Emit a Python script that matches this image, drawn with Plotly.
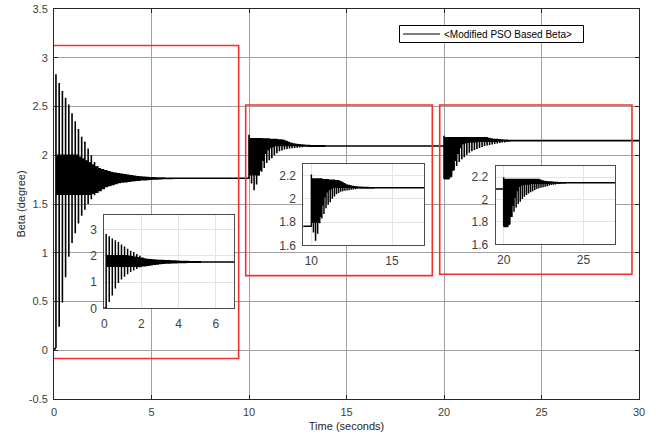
import plotly.graph_objects as go

# ---------------- data ----------------
# main axes ticks
x_ticks = [0, 5, 10, 15, 20, 25, 30]
y_ticks = [-0.5, 0, 0.5, 1, 1.5, 2, 2.5, 3, 3.5]
y_tick_text = ["-0.5", "0", "0.5", "1", "1.5", "2", "2.5", "3", "3.5"]

series_name = "&lt;Modified PSO Based Beta&gt;"
initial_value = 0.0

# segment 1 : transient after t = 0 (one entry per visible spike)
seg1_start = 0.1
seg1_step = 0.165
seg1_upper = [2.83, 2.74, 2.66, 2.59, 2.52, 2.43, 2.35, 2.27, 2.19, 2.14, 2.07, 2.00,
              1.93, 1.89, 1.86, 1.85, 1.84, 1.83, 1.82, 1.815, 1.81, 1.805, 1.80, 1.795,
              1.79, 1.785, 1.78, 1.778, 1.775, 1.772, 1.77, 1.768, 1.767, 1.766, 1.765, 1.765]
seg1_lower = [0.03, 0.24, 0.49, 0.75, 0.96, 1.10, 1.20, 1.30, 1.38, 1.44, 1.50, 1.55,
              1.59, 1.62, 1.65, 1.675, 1.69, 1.70, 1.71, 1.72, 1.725, 1.73, 1.73, 1.735,
              1.74, 1.74, 1.745, 1.745, 1.75, 1.75, 1.752, 1.755, 1.757, 1.758, 1.76, 1.76]
seg1_band_top = [2.00, 2.00, 2.00, 2.00, 2.00, 2.00, 2.00, 1.98, 1.96, 1.94, 1.92, 1.90,
                 1.88, 1.86, 1.85, 1.84, 1.83, 1.82, 1.815, 1.81, 1.805, 1.80, 1.795, 1.79,
                 1.785, 1.78, 1.777, 1.775, 1.772, 1.77, 1.768, 1.766, 1.765, 1.765, 1.764, 1.764]
seg1_band_bottom = [1.60, 1.60, 1.60, 1.60, 1.60, 1.60, 1.60, 1.60, 1.60, 1.60, 1.60, 1.61,
                    1.62, 1.64, 1.66, 1.68, 1.69, 1.70, 1.71, 1.72, 1.725, 1.73, 1.735, 1.74,
                    1.742, 1.745, 1.748, 1.75, 1.752, 1.754, 1.756, 1.758, 1.76, 1.761, 1.762, 1.763]
seg1_final = 1.764

# segment 2 : transient after t = 10
seg2_start = 10.0
seg2_step = 0.13
seg2_upper = [2.21, 2.17, 2.17, 2.17, 2.17, 2.17, 2.17, 2.17, 2.165, 2.165, 2.165, 2.16,
              2.16, 2.155, 2.15, 2.14, 2.13, 2.12, 2.115, 2.11, 2.107, 2.105, 2.103, 2.101,
              2.1, 2.099, 2.098, 2.097, 2.097, 2.097]
seg2_lower = [1.76, 1.71, 1.64, 1.70, 1.79, 1.83, 1.87, 1.92, 1.95, 1.97, 2.00, 2.02,
              2.04, 2.05, 2.06, 2.065, 2.07, 2.072, 2.075, 2.078, 2.08, 2.083, 2.086, 2.088,
              2.09, 2.091, 2.092, 2.093, 2.094, 2.094]
seg2_band_top = [2.17, 2.17, 2.17, 2.17, 2.17, 2.165, 2.165, 2.165, 2.16, 2.16, 2.16, 2.155,
                 2.155, 2.15, 2.14, 2.13, 2.12, 2.115, 2.11, 2.106, 2.104, 2.102, 2.1, 2.099,
                 2.098, 2.097, 2.097, 2.096, 2.096, 2.096]
seg2_band_bottom = [1.80, 1.80, 1.80, 1.80, 1.85, 1.95, 2.02, 2.06, 2.08, 2.09, 2.10, 2.10,
                    2.10, 2.10, 2.10, 2.10, 2.10, 2.10, 2.10, 2.098, 2.097, 2.096, 2.095, 2.094,
                    2.094, 2.094, 2.094, 2.094, 2.094, 2.094]
seg2_final = 2.095

# segment 3 : transient after t = 20
seg3_start = 20.0
seg3_step = 0.13
seg3_upper = [2.20, 2.18, 2.18, 2.18, 2.18, 2.18, 2.18, 2.18, 2.18, 2.18, 2.18, 2.18,
              2.18, 2.18, 2.18, 2.18, 2.18, 2.175, 2.17, 2.165, 2.162, 2.16, 2.158, 2.156,
              2.154, 2.153, 2.152, 2.151, 2.151, 2.15]
seg3_lower = [1.76, 1.755, 1.755, 1.78, 1.845, 1.89, 1.93, 1.96, 1.98, 2.005, 2.025, 2.04,
              2.055, 2.065, 2.075, 2.085, 2.095, 2.10, 2.105, 2.11, 2.115, 2.12, 2.125, 2.13,
              2.132, 2.135, 2.138, 2.14, 2.142, 2.144]
seg3_band_top = [2.18, 2.18, 2.18, 2.18, 2.18, 2.18, 2.18, 2.18, 2.18, 2.18, 2.18, 2.18,
                 2.18, 2.18, 2.18, 2.18, 2.18, 2.172, 2.167, 2.162, 2.16, 2.158, 2.156, 2.154,
                 2.153, 2.152, 2.151, 2.15, 2.15, 2.15]
seg3_band_bottom = [1.76, 1.76, 1.78, 1.85, 1.95, 2.02, 2.08, 2.12, 2.13, 2.135, 2.14, 2.14,
                    2.14, 2.145, 2.145, 2.145, 2.145, 2.145, 2.145, 2.145, 2.145, 2.146, 2.147, 2.148,
                    2.148, 2.148, 2.148, 2.148, 2.148, 2.148]
seg3_final = 2.15
t_end = 30.0

# highlighted regions (time range, value range)
box_t0 = [-0.08, 9.83, 19.78]
box_t1 = [9.47, 19.4, 29.64]
box_v0 = [-0.085, 0.765, 0.78]
box_v1 = [3.125, 2.515, 2.515]

# inset axes
inset_x_ranges = [[0, 7], [9.5, 17], [19.5, 27]]
inset_y_ranges = [[0, 3.55], [1.6, 2.3], [1.6, 2.3]]
inset_x_ticks = [[0, 2, 4, 6], [10, 15], [20, 25]]
inset_y_ticks = [[0, 1, 2, 3], [1.6, 1.8, 2.0, 2.2], [1.6, 1.8, 2.0, 2.2]]
inset_y_text = [["0", "1", "2", "3"], ["1.6", "1.8", "2", "2.2"], ["1.6", "1.8", "2", "2.2"]]


# ---------------- build the switching signal ----------------
def add_segment(xs, ys, start, step, ups, los, tops, bots, n_sub, final, t_next):
    for k in range(len(ups)):
        t = start + k * step
        xs += [t, t, t]
        ys += [los[k], ups[k], tops[k]]
        cur, other = tops[k], bots[k]
        for j in range(1, n_sub):
            tj = t + j * step / n_sub
            xs += [tj, tj]
            ys += [cur, other]
            cur, other = other, cur
        xs.append(t + step)
        ys.append(cur)
    t_last = start + len(ups) * step
    xs += [t_last, t_next]
    ys += [final, final]


xs, ys = [0.0], [initial_value]
add_segment(xs, ys, seg1_start, seg1_step, seg1_upper, seg1_lower, seg1_band_top,
            seg1_band_bottom, 4, seg1_final, seg2_start)
add_segment(xs, ys, seg2_start, seg2_step, seg2_upper, seg2_lower, seg2_band_top,
            seg2_band_bottom, 3, seg2_final, seg3_start)
add_segment(xs, ys, seg3_start, seg3_step, seg3_upper, seg3_lower, seg3_band_top,
            seg3_band_bottom, 3, seg3_final, t_end)

# ---------------- layout (page pixel geometry) ----------------
FONT = "Liberation Sans, Arial, Helvetica, sans-serif"
W, H = 656, 436
PLOT_L, PLOT_R, PLOT_T, PLOT_B = 54, 639, 9, 399   # main axes box on the page
ML, MR, MT, MB = PLOT_L, W - PLOT_R, PLOT_T, H - PLOT_B
PW, PH = PLOT_R - PLOT_L, PLOT_B - PLOT_T


def px_x(px):
    return (px - PLOT_L) / PW


def px_y(py):
    return (PLOT_B - py) / PH


fig = go.Figure()
fig.add_trace(go.Scatter(x=xs, y=ys, mode="lines", name=series_name, showlegend=False,
                         line=dict(color="black", width=1.6, simplify=False),
                         xaxis="x", yaxis="y", hoverinfo="skip"))
for i in range(3):
    n = str(i + 2)
    fig.add_trace(go.Scatter(x=xs, y=ys, mode="lines", showlegend=False,
                             line=dict(color="black", width=1.5, simplify=False),
                             xaxis="x" + n, yaxis="y" + n, hoverinfo="skip"))

for i in range(3):
    fig.add_shape(type="rect", xref="x", yref="y",
                  x0=box_t0[i], x1=box_t1[i], y0=box_v0[i], y1=box_v1[i],
                  line=dict(color="rgb(242,48,48)", width=1.6), layer="above")

# legend box drawn by hand (compact MATLAB style)
LEG_L, LEG_R, LEG_T, LEG_B = 399.5, 583.5, 25.5, 42.5
leg_mid = (LEG_T + LEG_B) / 2
fig.add_shape(type="rect", xref="paper", yref="paper",
              x0=px_x(LEG_L), x1=px_x(LEG_R), y0=px_y(LEG_B), y1=px_y(LEG_T),
              line=dict(color="black", width=1), fillcolor="white", layer="above")
fig.add_shape(type="line", xref="paper", yref="paper",
              x0=px_x(403), x1=px_x(440), y0=px_y(leg_mid), y1=px_y(leg_mid),
              line=dict(color="black", width=1), layer="above")
fig.add_annotation(xref="paper", yref="paper", x=px_x(442), y=px_y(leg_mid),
                   xanchor="left", yanchor="middle", showarrow=False, text=series_name,
                   font=dict(family=FONT, size=10, color="black"))

layout = dict(
    width=W, height=H,
    margin=dict(l=ML, r=MR, t=MT, b=MB, pad=0, autoexpand=False),
    paper_bgcolor="white", plot_bgcolor="white",
    font=dict(family=FONT, size=11, color="#262626"),
    showlegend=False,
    xaxis=dict(domain=[0, 1], range=[0, 30], tickvals=x_ticks, automargin=False,
               showgrid=True, gridcolor="#a0a0a0", gridwidth=1, zeroline=False,
               showline=True, linecolor="#262626", linewidth=1, mirror="ticks",
               ticks="inside", ticklen=4, tickcolor="#262626",
               tickfont=dict(size=11, color="#404040"), ticklabelstandoff=3,
               title=dict(text="Time (seconds)", font=dict(size=11, color="#262626"), standoff=5)),
    yaxis=dict(domain=[0, 1], range=[-0.5, 3.5], tickvals=y_ticks, ticktext=y_tick_text,
               automargin=False, ticklabeloverflow="allow",
               showgrid=True, gridcolor="#a0a0a0", gridwidth=1, zeroline=False,
               showline=True, linecolor="#262626", linewidth=1, mirror="ticks",
               ticks="inside", ticklen=4, tickcolor="#262626",
               tickfont=dict(size=11, color="#404040"), ticklabelstandoff=3,
               title=dict(text="Beta (degree)", font=dict(size=11, color="#262626"), standoff=0)),
)

# inset placement in page pixels (left, right, top, bottom)
inset_px = [(104.3, 234.3, 215.0, 308.3), (303.3, 424.3, 164.0, 245.3), (495.7, 615.3, 166.0, 244.3)]
for i in range(3):
    n = str(i + 2)
    l, r, t, b = inset_px[i]
    layout["xaxis" + n] = dict(
        domain=[px_x(l), px_x(r)], anchor="y" + n, range=inset_x_ranges[i],
        tickvals=inset_x_ticks[i], showgrid=True, gridcolor="#e4e4e4", zeroline=False,
        showline=True, linecolor="#4a4a4a", linewidth=1, mirror=True, ticks="", automargin=False,
        tickfont=dict(size=12, color="#404040"), ticklabelstandoff=4)
    layout["yaxis" + n] = dict(
        domain=[px_y(b), px_y(t)], anchor="x" + n, range=inset_y_ranges[i],
        tickvals=inset_y_ticks[i], ticktext=inset_y_text[i], showgrid=True, gridcolor="#e4e4e4",
        zeroline=False, showline=True, linecolor="#4a4a4a", linewidth=1, mirror=True, ticks="",
        automargin=False, tickfont=dict(size=12, color="#404040"), ticklabelstandoff=4)

fig.update_layout(**layout)
# the page's default 8px body margin would shift the 656x436 figure out of the window
fig.write_html("out.html", config={"displayModeBar": False},
               post_script="document.body.style.margin='0px';")
